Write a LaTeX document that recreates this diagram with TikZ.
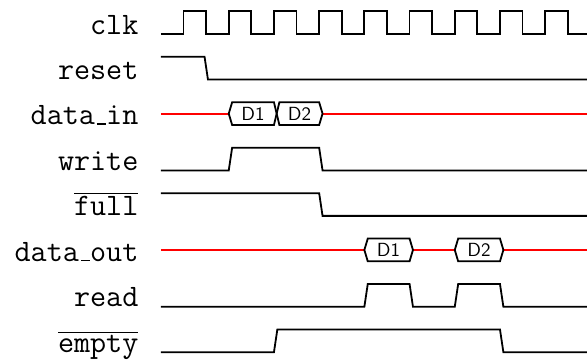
\documentclass[tikz,border=0pt]{standalone}
\usepackage{tikz}
\usetikzlibrary{calc}
\newcommand{\uscore}{\kern.06em\vbox{\hrule width .3em height .9pt}}
\tikzset{
  sig/.style={black, line width=0.9pt},
  zline/.style={red, line width=0.9pt},
  siglabel/.style={anchor=base east, inner sep=0pt, font=\fontsize{15.6}{18}\selectfont\ttfamily},
  buslabel/.style={inner sep=0pt, font=\fontsize{9.5}{11}\selectfont\sffamily}
}
\begin{document}
\begin{tikzpicture} [x=11.3pt, y=11.36pt]
\useasboundingbox (-7.12,-14.4) rectangle (18.85,1.5);
\node[siglabel] (clk) at (-0.98,0) {clk};
\node[siglabel] (reset) at (-0.98,-2) {reset};
\node[siglabel] (datain) at (-0.98,-4) {data\uscore in};
\node[siglabel] (write) at (-0.98,-6) {write};
\node[siglabel] (full) at (-0.98,-8) {$\overline{\mbox{\texttt{full}}}$};
\node[siglabel] (dataout) at (-0.98,-10) {data\uscore out};
\node[siglabel] (read) at (-0.98,-12) {read};
\node[siglabel] (empty) at (-0.98,-14) {$\overline{\mbox{\texttt{empty}}}$};

\draw[sig] (0,0) foreach \i in {1,3,...,17} { -- (\i,0) -- (\i,1) -- ({\i+1},1) -- ({\i+1},0) } -- (18.85,0);
\draw[sig] (0,-1) -- (1.93,-1) -- (2.08,-2) -- (18.85,-2);

\draw[zline] (0,-3.5) -- (3,-3.5);
\draw[zline] (7.15,-3.5) -- (18.85,-3.5);
\draw[sig] (3,-3.5) -- (3.15,-3) -- (5,-3) -- (5.12,-3.5) -- (5,-4) -- (3.15,-4) -- cycle;
\draw[sig] (5.12,-3.5) -- (5.24,-3) -- (7,-3) -- (7.15,-3.5) -- (7,-4) -- (5.24,-4) -- cycle;
\node[buslabel] (din1) at (4.07,-3.5) {D1};
\node[buslabel] (din2) at (6.13,-3.5) {D2};

\draw[sig] (0,-6) -- (3,-6) -- (3.15,-5) -- (7,-5) -- (7.15,-6) -- (18.85,-6);
\draw[sig] (0,-7) -- (7,-7) -- (7.15,-8) -- (18.85,-8);

\draw[zline] (0,-9.5) -- (9,-9.5);
\draw[zline] (11.15,-9.5) -- (13,-9.5);
\draw[zline] (15.15,-9.5) -- (18.85,-9.5);
\foreach \t/\d in {9/1,13/2} {
 \draw[sig] (\t,-9.5) -- ({\t+.15},-9) -- ({\t+2},-9) -- ({\t+2.15},-9.5) -- ({\t+2},-10) -- ({\t+.15},-10) -- cycle;
 \node[buslabel] (dout\d) at ({\t+1.07},-9.5) {D\d};
}

\draw[sig] (0,-12) -- (9,-12) -- (9.15,-11) -- (11,-11) -- (11.15,-12) -- (13,-12) -- (13.15,-11) -- (15,-11) -- (15.15,-12) -- (18.85,-12);
\draw[sig] (0,-14) -- (5,-14) -- (5.15,-13) -- (15,-13) -- (15.15,-14) -- (18.85,-14);
\end{tikzpicture}
\end{document}
